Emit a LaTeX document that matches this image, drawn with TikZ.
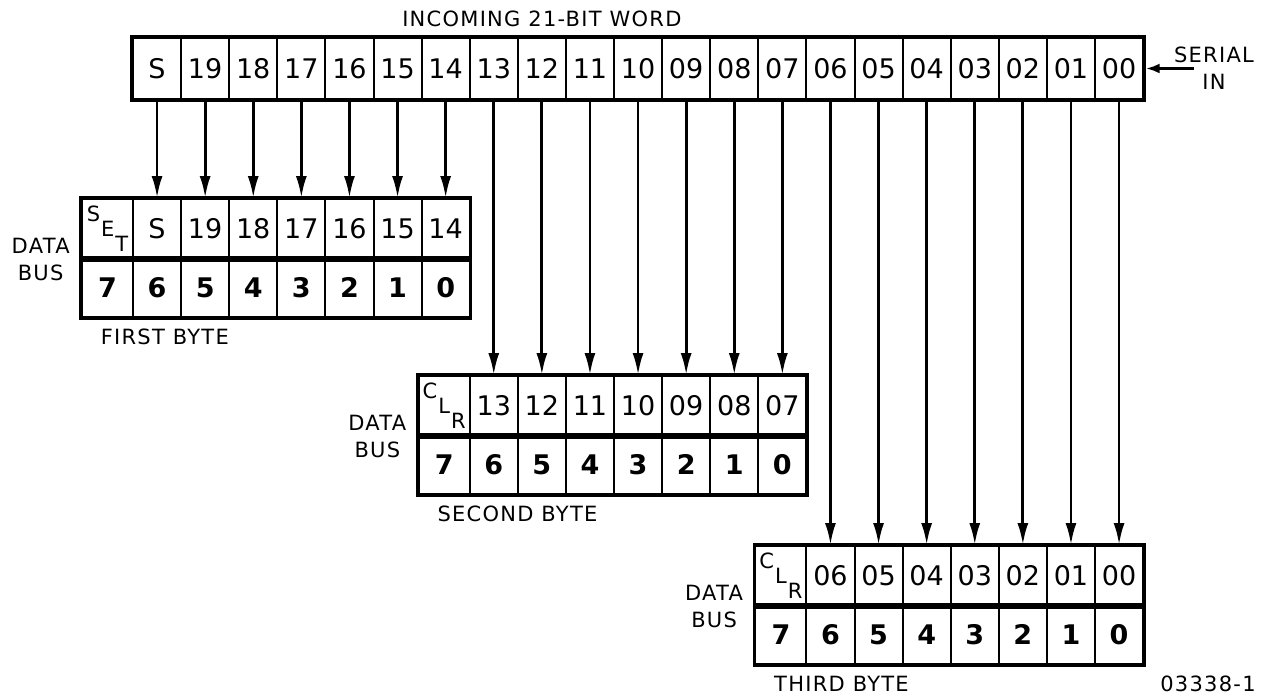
\documentclass[tikz,border=0pt]{standalone}
\usepackage{fontspec}
\setmainfont{DejaVu Sans}
\newfontfamily\lblfont[LetterSpace=6]{DejaVu Sans}
\usetikzlibrary{positioning,arrows.meta,fit}
\tikzset{
  reg-cell/.style={draw,line width=1pt,minimum width=24.05pt,minimum height=30.5pt,
    inner sep=0pt,font=\fontsize{13.5}{16}\selectfont},
  bit-cell/.style={reg-cell,minimum height=29.5pt},
  num-cell/.style={bit-cell,font=\fontsize{13.5}{16}\selectfont\bfseries},
  ctl-cell/.style={bit-cell,minimum width=25.5pt,font=\fontsize{10.5}{12}\selectfont},
  reg-frame/.style={draw,line width=1.6pt,inner sep=0pt},
  mid-line/.style={line width=2.8pt},
  caption-text/.style={font=\lblfont\fontsize{10.5}{13.5}\selectfont,align=center,inner sep=0pt},
  arrow/.style={-{Latex[length=11pt,width=5.5pt]},line width=1.4pt},
  arrow-in/.style={-{Latex[length=7pt,width=5pt]},line width=1.4pt},
}
% bit label of register column #1 (0 = sign bit)
\newcommand{\bitname}[1]{\ifnum#1=0 S\else\ifnum#1<11 \the\numexpr20-#1\relax\else 0\the\numexpr20-#1\relax\fi\fi}
% staggered control letters (SET / CLR)
\newcommand{\ctlstack}[3]{#1\kern0.5pt\raisebox{-7.5pt}{#2}\kern0.5pt\raisebox{-15pt}{#3}}

\begin{document}
\begin{tikzpicture}[x=0.5pt,y=-0.5pt]
  \useasboundingbox (0,0) rectangle (1261,696);
  % incoming word
  \foreach \i in {0,...,20}
    \node[reg-cell] (w\i) at ({133+48.1*(\i+0.5)},68.5) {\bitname{\i}};
  \node[reg-frame,fit=(w0)(w20)] (reg) {};
  \node[caption-text,above=5pt of w8.north] (title) {INCOMING 21-BIT WORD};
  \node[caption-text,right=14pt of reg.east] (serial) {SERIAL\\IN};
  \coordinate (serin) at ([xshift=-10pt]serial.center);
  \draw[arrow-in] (serin) -- (reg.east);

  % the three bytes on the data bus
  \foreach \b/\c/\yt/\p/\q/\r/\name in {1/0/199/S/E/T/FIRST,2/7/376/C/L/R/SECOND,3/14/546/C/L/R/THIRD}{
    \node[ctl-cell] (b\b t0) at ({133+48.1*\c-25.5},{\yt+29.5}) {\ctlstack{\p}{\q}{\r}};
    \node[num-cell,minimum width=25.5pt] (b\b n0) at ({133+48.1*\c-25.5},{\yt+88.5}) {7};
    \foreach \k in {1,...,7}{
      \pgfmathtruncatemacro\col{\c+\k-1}
      \node[bit-cell] (b\b t\k) at ({133+48.1*(\col+0.5)},{\yt+29.5}) {\bitname{\col}};
      \node[num-cell] (b\b n\k) at ({133+48.1*(\col+0.5)},{\yt+88.5}) {\the\numexpr7-\k\relax};
      \draw[arrow] (w\col) -- (b\b t\k);
    }
    \node[reg-frame,fit=(b\b t0)(b\b n7)] (byte\b) {};
    \draw[mid-line] (b\b t0.south west) -- (b\b t7.south east);
    \node[caption-text,left=5.5pt of b\b t0.south west] (bus\b) {DATA\\BUS};
    \node[caption-text,anchor=north west,below right=4.5pt and 10.5pt of byte\b.south west] (cap\b) {\name\ BYTE};
  }
  \node[caption-text] (figno) at (1208,684) {03338-1};
\end{tikzpicture}
\end{document}
